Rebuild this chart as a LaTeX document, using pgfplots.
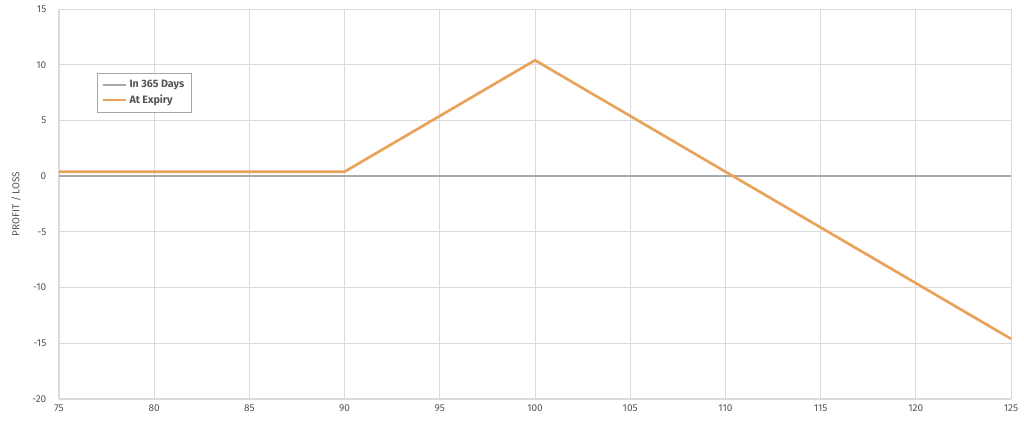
\documentclass[border=0pt]{standalone}
\usepackage{pgfplots}
\pgfplotsset{compat=1.18}
\usepackage{fontspec}
\setmainfont{Fira Sans}
\definecolor{orangeline}{HTML}{E9A25A}
\definecolor{greyline}{HTML}{A8A8A8}
\definecolor{gridc}{HTML}{DADADA}
\definecolor{textc}{HTML}{555555}
\begin{document}
\begin{tikzpicture}
\begin{axis}[
  scale only axis,
  width=714pt, height=292.5pt,
  xmin=75, xmax=125, ymin=-20, ymax=15,
  xtick={75,80,...,125}, ytick={-20,-15,...,15},
  grid=major, grid style={gridc, line width=0.6pt},
  axis lines=left, axis line style={-, gridc, line width=0.8pt},
  major tick length=0pt,
  tick label style={font=\fontsize{7.5}{9}\selectfont, text=textc},
  yticklabel style={xshift=-6pt},
  xticklabel style={yshift=-1pt},
  /pgf/number format/assume math mode=true,
  ylabel={PROFIT / LOSS},
  ylabel style={font=\fontsize{7.5}{9}\selectfont, text=textc, yshift=2pt},
  legend style={at={(0.04,0.836)}, anchor=north west, draw=gray!70, line width=0.5pt,
    font=\fontsize{8}{10}\selectfont\bfseries, text=textc, row sep=0pt, inner sep=3pt},
  legend cell align=left,
  clip=false,
]
\addplot[greyline, line width=1.5pt] coordinates {(75,0) (125,0)};
\addlegendentry{In 365 Days}
\addplot[orangeline, line width=2pt] coordinates {(75,0.4) (90,0.4) (100,10.4) (125,-14.6)};
\addlegendentry{At Expiry}
\end{axis}
\pgfresetboundingbox
\path (-44.25pt,-18.75pt) rectangle (723.75pt,299.25pt);
\end{tikzpicture}
\end{document}
